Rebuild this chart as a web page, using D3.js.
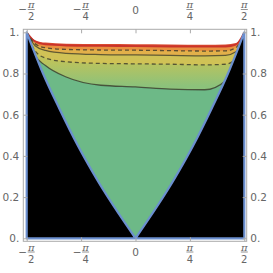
<!DOCTYPE html>
<html>
<head>
<meta charset="utf-8">
<script src="https://cdn.jsdelivr.net/npm/d3@7"></script>
<style>
  body { margin: 0; background: #fff; }
  text { font-family: "DejaVu Sans"; fill: #666; }
</style>
</head>
<body>
<svg id="chart" width="273" height="273"></svg>
<script>
const width = 273;
const height = 273;

const xTicks = [-Math.PI / 2, -Math.PI / 4, 0, Math.PI / 4, Math.PI / 2];
const xTickLabels = [["−", "π", "2"], ["−", "π", "4"], ["", "0", ""], ["", "π", "4"], ["", "π", "2"]];
const yTicks = [0, 0.2, 0.4, 0.6, 0.8, 1];
const yTickLabels = ["0.", "0.2", "0.4", "0.6", "0.8", "1."];

// right half of the wedge boundary, mirrored for the left half
const wedgeX = [0, 0.565, 0.833, 1.100, 1.335, Math.PI / 2];
const wedgeY = [0, 0.29, 0.45, 0.63, 0.80, 1];

// contour levels sampled along x
const contourX = [-1.45, -1.3, -1.0, -0.5, 0, 0.5, 1.0, 1.3, 1.45];
const topEdge   = [0.962, 0.950, 0.945, 0.943, 0.942, 0.941, 0.940, 0.941, 0.948];
const redLevel  = [0.955, 0.941, 0.936, 0.934, 0.933, 0.931, 0.930, 0.931, 0.940];
const dashHigh  = [0.945, 0.925, 0.917, 0.914, 0.913, 0.911, 0.909, 0.910, 0.925];
const solidHigh = [0.935, 0.912, 0.898, 0.892, 0.890, 0.888, 0.886, 0.888, 0.905];
const dashLow   = [0.910, 0.875, 0.857, 0.849, 0.847, 0.845, 0.842, 0.845, 0.875];
const solidLow  = [0.888, 0.839, 0.783, 0.743, 0.735, 0.724, 0.721, 0.765, 0.880];

const x = d3.scaleLinear().domain([-Math.PI / 2, Math.PI / 2]).range([26.7, 244.3]);
const y = d3.scaleLinear().domain([0, 1]).range([238.3, 32.3]);
const frame = { left: 23.3, right: 246.7, top: 29.3, bottom: 241.3 };

const svg = d3.select("#chart");
const defs = svg.append("defs");

const wedgeLeft = wedgeX.map((d, i) => [-d, wedgeY[i]]).reverse(); // top-left down to origin
const wedgeRight = wedgeX.map((d, i) => [d, wedgeY[i]]);            // origin up to top-right

const line = d3.line().x(d => x(d[0])).y(d => y(d[1]));
const smooth = d3.line().x(d => x(d[0])).y(d => y(d[1])).curve(d3.curveMonotoneX);

// each half smoothed on its own so the tip stays sharp
const leftSide = smooth(wedgeLeft);
const rightSide = smooth(wedgeRight).replace(/^M/, "L");
const wedgePath = leftSide + rightSide;

defs.append("clipPath")
    .attr("id", "wedge")
  .append("path")
    .attr("d", wedgePath + "Z");

const grad = defs.append("linearGradient")
    .attr("id", "band4")
    .attr("gradientUnits", "userSpaceOnUse")
    .attr("x1", 0).attr("x2", 0)
    .attr("y1", y(0.86)).attr("y2", y(0.74));
grad.append("stop").attr("offset", 0).attr("stop-color", "#bcc35c");
grad.append("stop").attr("offset", 1).attr("stop-color", "#8cc27b");

function contourPoints(vals) {
    return [[-Math.PI / 2, 1]]
        .concat(contourX.map((d, i) => [d, vals[i]]))
        .concat([[Math.PI / 2, 1]]);
}

const area = d3.area()
    .x(d => x(d[0]))
    .y0(y(0))
    .y1(d => y(d[1]))
    .curve(d3.curveMonotoneX);

const bands = [
    { vals: topEdge, fill: "#d94b30" },
    { vals: redLevel, fill: "#e8903f" },
    { vals: dashHigh, fill: "#e2b04a" },
    { vals: solidHigh, fill: "#d0c256" },
    { vals: dashLow, fill: "url(#band4)" },
    { vals: solidLow, fill: "#6db987" }
];

const plot = svg.append("g").attr("clip-path", "url(#wedge)");

plot.selectAll(".band")
    .data(bands)
    .enter().append("path")
    .attr("class", "band")
    .attr("fill", d => d.fill)
    .attr("d", d => area(contourPoints(d.vals)));

const contourLines = [
    { vals: redLevel, stroke: "#c8302a", dash: null, w: 1.8, op: 0.95 },
    { vals: dashHigh, stroke: "#3a3a2a", dash: "4,3", w: 1.3, op: 0.8 },
    { vals: solidHigh, stroke: "#3a3a2a", dash: null, w: 1.2, op: 0.75 },
    { vals: dashLow, stroke: "#3a3a2a", dash: "4,3", w: 1.3, op: 0.8 },
    { vals: solidLow, stroke: "#3a3a2a", dash: null, w: 1.3, op: 0.8 }
];

plot.selectAll(".contour")
    .data(contourLines)
    .enter().append("path")
    .attr("class", "contour")
    .attr("fill", "none")
    .attr("stroke", d => d.stroke)
    .attr("stroke-width", d => d.w)
    .attr("stroke-opacity", d => d.op)
    .attr("stroke-dasharray", d => d.dash)
    .attr("d", d => smooth(contourPoints(d.vals)));

// black side regions
const leftBlack = `M${x(-Math.PI / 2)},${y(0)}L` + smooth(wedgeLeft).slice(1) + "Z";
const rightBlack = smooth(wedgeRight) + `L${x(Math.PI / 2)},${y(0)}Z`;
svg.selectAll(".side")
    .data([leftBlack, rightBlack])
    .enter().append("path")
    .attr("class", "side")
    .attr("fill", "#000")
    .attr("d", d => d);

// blue boundary
svg.append("path")
    .attr("fill", "none")
    .attr("stroke", "#6b8fcf")
    .attr("stroke-width", 2.2)
    .attr("stroke-linejoin", "round")
    .attr("d", wedgePath + line([[Math.PI / 2, 0], [-Math.PI / 2, 0]]).replace(/^M/, "L") + "Z");

// frame
svg.append("rect")
    .attr("x", frame.left).attr("y", frame.top)
    .attr("width", frame.right - frame.left)
    .attr("height", frame.bottom - frame.top)
    .attr("fill", "none")
    .attr("stroke", "#aaa")
    .attr("stroke-width", 1);

function styleAxis(g) {
    g.select(".domain").remove();
    g.selectAll(".tick line").attr("stroke", "#aaa");
    g.selectAll(".tick text").style("font-size", "10.5px").attr("fill", "#666");
}

svg.append("g")
    .attr("transform", `translate(${frame.left},0)`)
    .call(d3.axisLeft(y).tickValues(yTicks).tickSize(-4).tickPadding(4)
        .tickFormat((d, i) => yTickLabels[i]))
    .call(styleAxis);

svg.append("g")
    .attr("transform", `translate(${frame.right},0)`)
    .call(d3.axisRight(y).tickValues(yTicks).tickSize(-4).tickPadding(3.5)
        .tickFormat((d, i) => yTickLabels[i]))
    .call(styleAxis);

svg.append("g")
    .attr("transform", `translate(0,${frame.bottom})`)
    .call(d3.axisBottom(x).tickValues(xTicks).tickSize(-4).tickFormat(""))
    .call(styleAxis);

svg.append("g")
    .attr("transform", `translate(0,${frame.top})`)
    .call(d3.axisTop(x).tickValues(xTicks).tickSize(-4).tickFormat(""))
    .call(styleAxis);

// fraction tick labels
function fractionLabels(barY) {
    const g = svg.append("g");
    xTicks.forEach((t, i) => {
        const [sign, num, den] = xTickLabels[i];
        const cx = x(t);
        if (!den) {
            g.append("text")
                .attr("x", cx).attr("y", barY + 4)
                .attr("text-anchor", "middle")
                .style("font-size", "10.5px")
                .text(num);
            return;
        }
        const fx = sign ? cx + 4.5 : cx;
        if (sign) {
            g.append("text")
                .attr("x", cx - 4).attr("y", barY + 3.8)
                .attr("text-anchor", "middle")
                .style("font-size", "10.5px")
                .text(sign);
        }
        g.append("text")
            .attr("x", fx).attr("y", barY - 1.5)
            .attr("text-anchor", "middle")
            .style("font-family", "DejaVu Serif")
            .style("font-style", "italic")
            .style("font-size", "10px")
            .text(num);
        g.append("line")
            .attr("x1", fx - 3.5).attr("x2", fx + 3.5)
            .attr("y1", barY).attr("y2", barY)
            .attr("stroke", "#777").attr("stroke-width", 0.8);
        g.append("text")
            .attr("x", fx).attr("y", barY + 10.5)
            .attr("text-anchor", "middle")
            .style("font-size", "10px")
            .text(den);
    });
}

fractionLabels(9.5);
fractionLabels(252);
</script>
</body>
</html>
